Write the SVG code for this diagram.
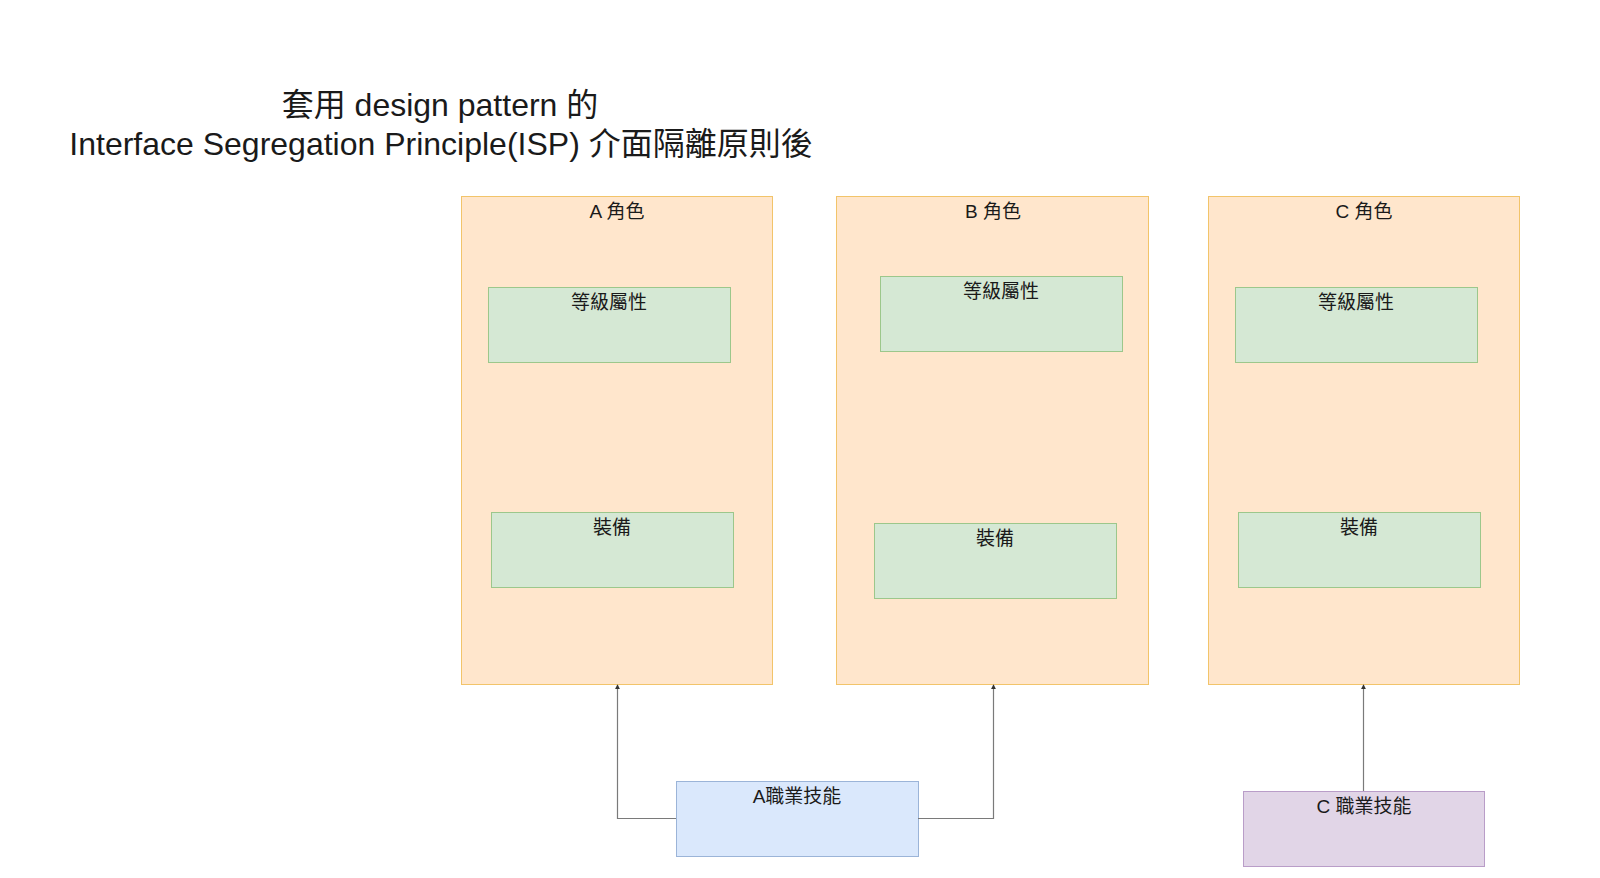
<svg xmlns="http://www.w3.org/2000/svg" width="1600" height="878" viewBox="0 0 1600 878">
<style>
text{font-family:"Liberation Sans","Noto Sans CJK TC",sans-serif;fill:#1a1a1a;text-anchor:middle}
.title{font-size:32px}
.lbl{font-size:19px}
.role{fill:#ffe6cc;stroke:#f2c46a;stroke-width:1}
.attr{fill:#d5e8d4;stroke:#9cc78b;stroke-width:1}
.skillA{fill:#dae8fc;stroke:#9bb4d8;stroke-width:1}
.skillC{fill:#e1d5e7;stroke:#b99dc8;stroke-width:1}
.edge{fill:none;stroke:#7a7a7a;stroke-width:1.2}
</style>
<defs>
<marker id="arr" viewBox="0 0 6 6" refX="5" refY="3" markerWidth="5" markerHeight="5" orient="auto" markerUnits="userSpaceOnUse">
<path d="M0,0 L6,3 L0,6 Z" fill="#333"/>
</marker>
</defs>
<rect width="1600" height="878" fill="#ffffff"/>
<g id="title">
<text class="title" x="440" y="116">套用 design pattern 的</text>
<text class="title" x="441" y="155">Interface Segregation Principle(ISP) 介面隔離原則後</text>
</g>
<g id="roleA"><rect class="role" x="461.5" y="196.5" width="311" height="488"/><text class="lbl" x="617" y="218">A 角色</text></g>
<g id="roleB"><rect class="role" x="836.5" y="196.5" width="312" height="488"/><text class="lbl" x="993" y="218">B 角色</text></g>
<g id="roleC"><rect class="role" x="1208.5" y="196.5" width="311" height="488"/><text class="lbl" x="1364" y="218">C 角色</text></g>
<g id="attrA"><rect class="attr" x="488.5" y="287.5" width="242" height="75"/><text class="lbl" x="609" y="309">等級屬性</text></g>
<g id="equipA"><rect class="attr" x="491.5" y="512.5" width="242" height="75"/><text class="lbl" x="612" y="534">裝備</text></g>
<g id="attrB"><rect class="attr" x="880.5" y="276.5" width="242" height="75"/><text class="lbl" x="1001" y="298">等級屬性</text></g>
<g id="equipB"><rect class="attr" x="874.5" y="523.5" width="242" height="75"/><text class="lbl" x="995" y="545">裝備</text></g>
<g id="attrC"><rect class="attr" x="1235.5" y="287.5" width="242" height="75"/><text class="lbl" x="1356" y="309">等級屬性</text></g>
<g id="equipC"><rect class="attr" x="1238.5" y="512.5" width="242" height="75"/><text class="lbl" x="1359" y="534">裝備</text></g>
<g id="skillA"><rect class="skillA" x="676.5" y="781.5" width="242" height="75"/><text class="lbl" x="797" y="803">A職業技能</text></g>
<g id="skillC"><rect class="skillC" x="1243.5" y="791.5" width="241" height="75"/><text class="lbl" x="1364" y="813">C 職業技能</text></g>
<g id="connectors">
<path class="edge" d="M676,818.5 H617.5 V685" marker-end="url(#arr)"/>
<path class="edge" d="M918,818.5 H993.5 V685" marker-end="url(#arr)"/>
<path class="edge" d="M1363.5,791 V685" marker-end="url(#arr)"/>
</g>
</svg>
